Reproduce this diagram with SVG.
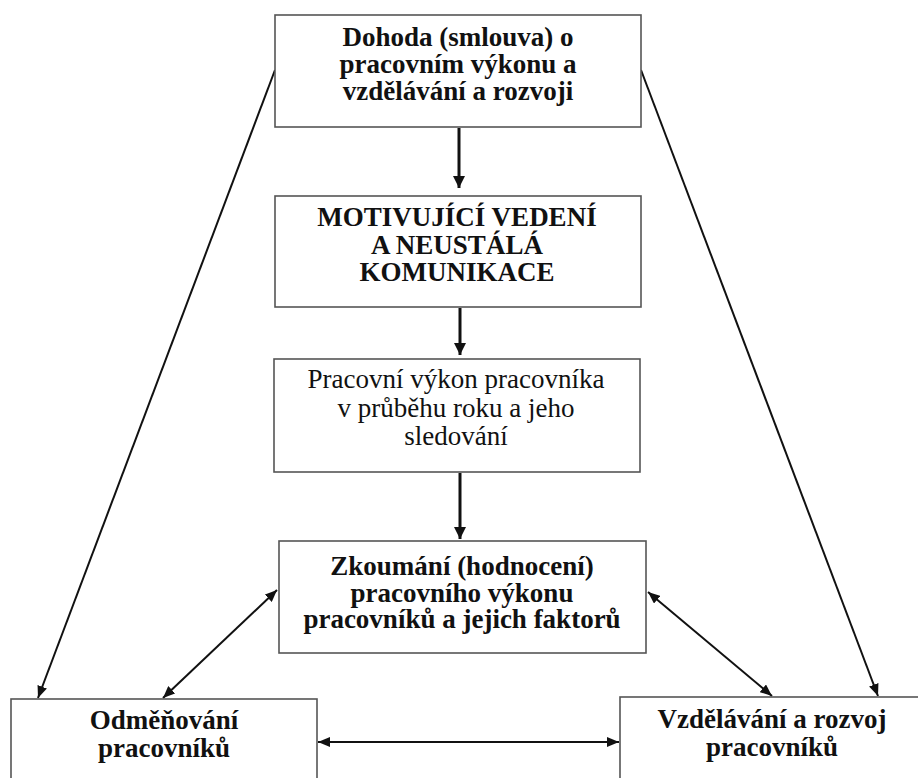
<svg xmlns="http://www.w3.org/2000/svg" width="918" height="778" viewBox="0 0 918 778">
  <defs>
    <style>
      .box { fill: #ffffff; stroke: #555555; stroke-width: 1.6; }
      .lbl { font-family: 'Liberation Serif', 'DejaVu Serif', serif; font-size: 27px; fill: #111111; text-anchor: middle; }
      .b { font-weight: bold; }
      .link { stroke: #111111; stroke-width: 2; fill: none; }
      .main { stroke: #111111; stroke-width: 3; fill: none; }
    </style>
    <marker id="head" viewBox="0 0 12 10" refX="12" refY="5" markerWidth="12" markerHeight="10" markerUnits="userSpaceOnUse" orient="auto-start-reverse">
      <path d="M0,0 L12,5 L0,10 Z" fill="#111111"/>
    </marker>
    <marker id="bighead" viewBox="0 0 12 12" refX="12" refY="6" markerWidth="12" markerHeight="12" markerUnits="userSpaceOnUse" orient="auto">
      <path d="M0,0 L12,6 L0,12 Z" fill="#111111"/>
    </marker>
  </defs>
  <rect width="918" height="778" fill="#ffffff"/>

  <g id="connectors">
    <line class="main" x1="459" y1="128" x2="459" y2="188" marker-end="url(#bighead)"/>
    <line class="main" x1="460" y1="308" x2="460" y2="355" marker-end="url(#bighead)"/>
    <line class="main" x1="460" y1="473" x2="460" y2="539" marker-end="url(#bighead)"/>
    <line class="link" x1="275" y1="70" x2="38" y2="698" marker-end="url(#head)"/>
    <line class="link" x1="641" y1="70" x2="878" y2="696" marker-end="url(#head)"/>
    <line class="link" x1="277" y1="590" x2="163" y2="698" marker-start="url(#head)" marker-end="url(#head)"/>
    <line class="link" x1="648" y1="592" x2="772" y2="696" marker-start="url(#head)" marker-end="url(#head)"/>
    <line class="link" x1="318" y1="742" x2="619" y2="742" marker-start="url(#head)" marker-end="url(#head)"/>
  </g>

  <g id="dohoda">
    <rect class="box" x="275" y="15" width="366" height="112"/>
    <text class="lbl b" x="458" y="46">Dohoda (smlouva) o</text>
    <text class="lbl b" x="458" y="73">pracovním výkonu a</text>
    <text class="lbl b" x="458" y="100">vzdělávání a rozvoji</text>
  </g>

  <g id="vedeni">
    <rect class="box" x="275" y="196" width="366" height="111"/>
    <text class="lbl b" x="457" y="226">MOTIVUJÍCÍ VEDENÍ</text>
    <text class="lbl b" x="457" y="254">A NEUSTÁLÁ</text>
    <text class="lbl b" x="457" y="281">KOMUNIKACE</text>
  </g>

  <g id="vykon">
    <rect class="box" x="274" y="359" width="366" height="113"/>
    <text class="lbl" x="456" y="388">Pracovní výkon pracovníka</text>
    <text class="lbl" x="456" y="417">v průběhu roku a jeho</text>
    <text class="lbl" x="456" y="445">sledování</text>
  </g>

  <g id="zkoumani">
    <rect class="box" x="279" y="541" width="367" height="112"/>
    <text class="lbl b" x="462" y="575">Zkoumání (hodnocení)</text>
    <text class="lbl b" x="462" y="602">pracovního výkonu</text>
    <text class="lbl b" x="462" y="628">pracovníků a jejich faktorů</text>
  </g>

  <g id="odmenovani">
    <rect class="box" x="11" y="699" width="306" height="100"/>
    <text class="lbl b" x="164" y="729">Odměňování</text>
    <text class="lbl b" x="164" y="757">pracovníků</text>
  </g>

  <g id="vzdelavani">
    <rect class="box" x="620" y="697" width="310" height="100"/>
    <text class="lbl b" x="772" y="728">Vzdělávání a rozvoj</text>
    <text class="lbl b" x="772" y="756">pracovníků</text>
  </g>
</svg>
